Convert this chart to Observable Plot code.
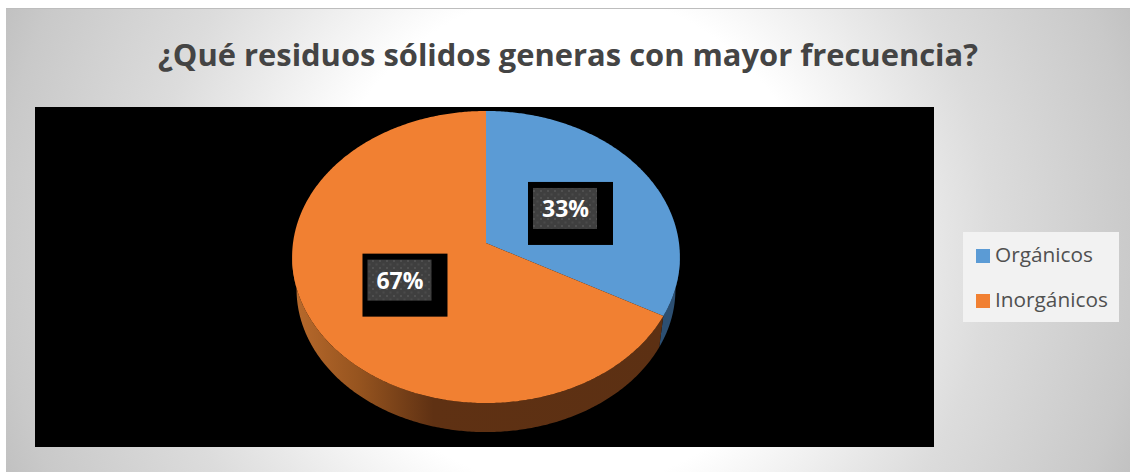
<!DOCTYPE html>
<html lang="es">
<head>
<meta charset="utf-8">
<script src="https://cdn.jsdelivr.net/npm/d3@7"></script>
<script src="https://cdn.jsdelivr.net/npm/@observablehq/plot@0.6"></script>
<style>
  html, body { margin: 0; padding: 0; background: #fff; }
  #page { position: relative; width: 1130px; height: 472px; overflow: hidden; }
  #panel {
    position: absolute; left: 6px; top: 8px; right: 0; bottom: 0;
    border-top: 1px solid #bdbdbd;
    background: radial-gradient(circle 620px at 564px 231px, #fff 0%, #fff 40%, #e8e8e8 58%, #dcdcdc 68%, #c9c9c9 92%, #bfbfbf 100%);
  }
  #chart { position: absolute; left: 0; top: 0; }
  #title {
    position: absolute; left: 6px; right: 0; top: 31px; margin: 0; text-align: center;
    font: 700 30.9px/46px "Open Sans", sans-serif; color: #444; white-space: nowrap;
  }
  #legend {
    position: absolute; left: 963px; top: 232px; width: 156px; height: 90px; background: #f2f2f2;
    font: 20.8px "Open Sans", sans-serif; color: #505050;
  }
  .entry { position: absolute; left: 13px; height: 28px; line-height: 28px; white-space: nowrap; }
  .entry i { display: inline-block; width: 14px; height: 14px; margin-right: 5px; vertical-align: -1px; }
</style>
</head>
<body>
<div id="page">
  <div id="panel"></div>
  <div id="chart"></div>
  <h1 id="title"></h1>
  <div id="legend"></div>
</div>
<script>
const title = "¿Qué residuos sólidos generas con mayor frecuencia?";
const categories = ["Orgánicos", "Inorgánicos"];
const shares = [33, 67];
const topColors = ["#5b9bd5", "#f18032"];
const wallFills = ["#2c4f72", "url(#orangeWall)"];
const labelRadii = [0.49, 0.505];
const labelDrops = [1.7, 0];

// Tilted-disc projection: radii in pixels, k is the perspective strength.
const radiusX = 193, radiusY = 144.7, k = 0.096;
const wallScale = 0.977, wallDrop = 32.7;
const project = (r, angle) => {
  const u = r * Math.sin(angle), v = r * Math.cos(angle), w = 1 + k * v;
  return {x: radiusX * u / w, y: radiusY * v / w};
};
const lower = (p) => ({x: p.x * wallScale, y: p.y * wallScale - wallDrop});

const arcs = d3.pie().sort(null).value((d) => d)(shares);
const steps = (a, b) => {
  const n = Math.ceil(Math.abs(b - a) / 0.01);
  return d3.range(n + 1).map((i) => a + ((b - a) * i) / n);
};

// Top face of each slice, closed through the pie's apex.
const faces = arcs.flatMap((arc, i) => [
  {name: categories[i], x: 0, y: 0},
  ...steps(arc.startAngle, arc.endAngle).map((t) => ({name: categories[i], ...project(1, t)}))
]);

// Side wall: only the part of the rim that faces the viewer is visible.
const facing = Math.acos(-k);
const wallPart = (arc, i) => {
  const from = Math.max(arc.startAngle, facing);
  const to = Math.min(arc.endAngle, 2 * Math.PI - facing);
  const rim = steps(from, to).map((t) => project(1, t));
  return [...rim, ...rim.slice().reverse().map(lower)].map((p) => ({i, ...p}));
};
const walls = arcs.map(wallPart);

// Data labels sit about halfway out along each slice's middle angle.
const labels = arcs.map((arc, i) => {
  const at = project(labelRadii[i], (arc.startAngle + arc.endAngle) / 2);
  return {text: `${shares[i]}%`, x: at.x, y: at.y - labelDrops[i]};
});

const defs = () => {
  const svg = d3.create("svg:defs");
  const g = svg.append("linearGradient").attr("id", "orangeWall");
  [[0, "#b96a2c"], [0.18, "#96541f"], [0.38, "#5f3113"], [1, "#5c3013"]].forEach(([o, c]) =>
    g.append("stop").attr("offset", o).attr("stop-color", c));
  const p = svg.append("pattern").attr("id", "labelDots").attr("patternUnits", "userSpaceOnUse")
    .attr("width", 7).attr("height", 7);
  p.append("rect").attr("width", 7).attr("height", 7).attr("fill", "#3f3f3f");
  p.append("rect").attr("x", 1).attr("y", 1).attr("width", 2).attr("height", 2).attr("fill", "#505050");
  p.append("rect").attr("x", 4.5).attr("y", 4.5).attr("width", 2).attr("height", 2).attr("fill", "#4a4a4a");
  return svg.node();
};

// Half-pixel margins cancel Plot's default 0.5px offset so the black area lands on whole pixels.
const chart = Plot.plot({
  width: 1130,
  height: 472,
  marginLeft: 34.5,
  marginRight: 196.5,
  marginTop: 106.5,
  marginBottom: 25.5,
  style: {background: "transparent"},
  x: {axis: null, domain: [-451, 448]},
  y: {axis: null, domain: [-204, 136]},
  color: {domain: categories, range: topColors},
  marks: [
    defs,
    Plot.frame({fill: "#000", stroke: "none"}),
    ...walls.map((w, i) =>
      Plot.line(w, {x: "x", y: "y", fill: wallFills[i], stroke: "none"})),
    Plot.line(faces, {x: "x", y: "y", z: "name", fill: "name", stroke: "none"}),
    Plot.rect(labels, {
      x1: (d) => d.x - 37, x2: (d) => d.x + 48,
      y1: (d) => d.y + 27, y2: (d) => d.y - 36,
      fill: "#000"
    }),
    Plot.rect(labels, {
      x1: (d) => d.x - 32, x2: (d) => d.x + 32,
      y1: (d) => d.y + 21, y2: (d) => d.y - 20,
      fill: "url(#labelDots)"
    }),
    Plot.text(labels, {
      x: "x", y: "y", text: "text", fill: "#fff", dy: 0.5,
      fontFamily: "Open Sans", fontWeight: 700, fontSize: 23
    })
  ]
});
document.getElementById("chart").append(chart);
document.getElementById("title").textContent = title;

const legend = document.getElementById("legend");
categories.forEach((name, i) => {
  const entry = document.createElement("div");
  entry.className = "entry";
  entry.style.top = `${8 + i * 45}px`;
  const swatch = document.createElement("i");
  swatch.style.background = topColors[i];
  entry.append(swatch, name);
  legend.append(entry);
});
</script>
</body>
</html>
